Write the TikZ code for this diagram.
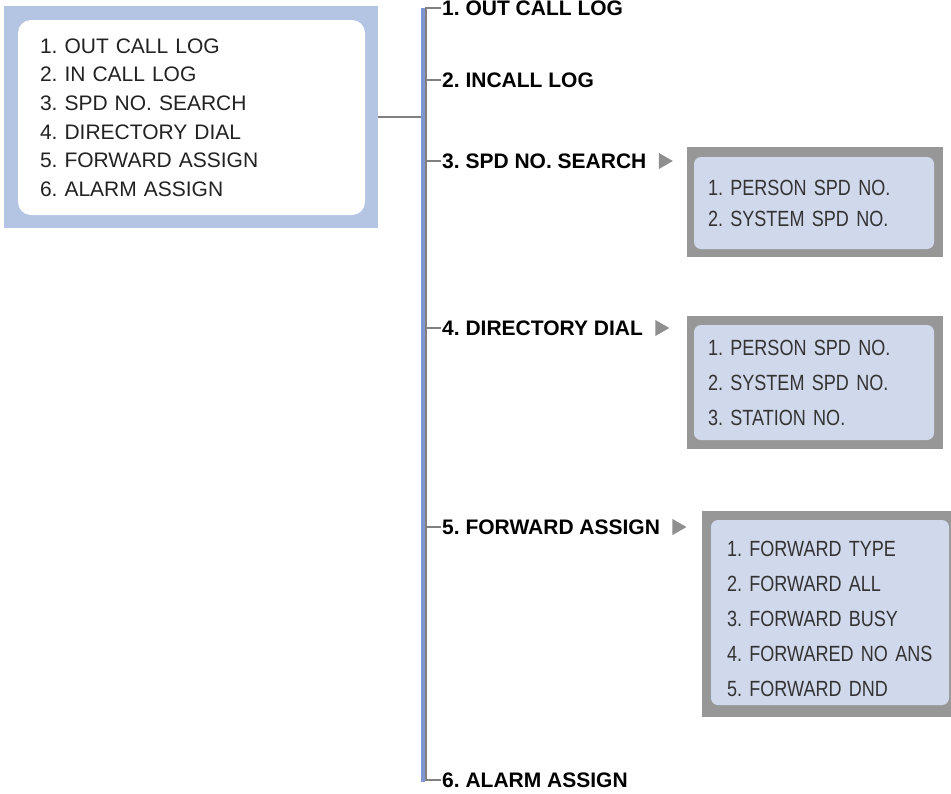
\documentclass[tikz,border=0pt]{standalone}
\usepackage{fontspec}
\setmainfont{Liberation Sans}
\newfontfamily\condfont{Liberation Sans}[FakeStretch=0.82, WordSpace=0.6]
\usetikzlibrary{positioning,shapes.geometric}
\definecolor{menublue}{HTML}{B3C5E3}
\definecolor{barblue}{HTML}{7F96D0}
\definecolor{subfill}{HTML}{D0D9EC}
\definecolor{boxgray}{HTML}{979797}
\definecolor{linegray}{HTML}{808080}
\definecolor{trigray}{HTML}{8F8F8F}
\definecolor{menutext}{HTML}{222222}
\definecolor{subtext}{HTML}{333333}

\tikzset{
  head/.style={anchor=west, inner sep=1pt, font=\bfseries\fontsize{21}{25}\selectfont},
  subframe/.style={fill=boxgray, inner sep=0pt},
  subbox/.style={fill=subfill, rounded corners=7pt, align=left, inner ysep=0pt, text=subtext,
    font=\condfont\fontsize{22}{35}\selectfont},
  tri/.style={isosceles triangle, isosceles triangle apex angle=60, fill=trigray,
    inner sep=0pt, minimum height=14pt},
  treeline/.style={draw=linegray, line width=1.6pt}
}

\begin{document}
\frenchspacing
\begin{tikzpicture}[x=1pt, y=-1pt, node distance=11pt]
  \useasboundingbox (0,0) rectangle (951,793);
  % main menu
  \node[fill=menublue, minimum width=374, minimum height=222, inner sep=0pt] (menubg) at (191,117) {};
  \node[fill=white, rounded corners=13pt, minimum width=347, minimum height=195, inner xsep=22pt,
    text width=303pt, align=left, text=menutext, font=\fontsize{21}{28.6}\selectfont] (menu) at (191.5,117.5)
    {1. OUT CALL LOG\\2. IN CALL LOG\\3. SPD NO. SEARCH\\4. DIRECTORY DIAL\\5. FORWARD ASSIGN\\6. ALARM ASSIGN};

  % spine
  \node[fill=barblue, minimum width=4, minimum height=774, inner sep=0pt] (bar) at (423,395) {};
  \coordinate (spine) at (426,8);

  \node[head] (h1) at (441,8) {1. OUT CALL LOG};
  \node[head] (h2) at (441,80) {2. INCALL LOG};
  \node[head] (h3) at (441,161) {3. SPD NO. SEARCH};
  \node[head] (h4) at (441,328) {4. DIRECTORY DIAL};
  \node[head] (h5) at (441,527) {5. FORWARD ASSIGN};
  \node[head] (h6) at (441,780) {6. ALARM ASSIGN};

  \draw[treeline] (menubg.east) -- (menubg.east -| bar.west);
  \draw[treeline] (h1.west) -- (h1.west -| spine) -- (h6.west -| spine) -- (h6.west);
  \foreach \h in {h2,h3,h4,h5}
    \draw[treeline] (\h.west) -- (\h.west -| spine);

  \node[tri, right=of h3] (t3) {};
  \node[tri, right=of h4] (t4) {};
  \node[tri, right=of h5] (t5) {};

  % sub menus
  \node[subframe, minimum width=256, minimum height=110] (f3) at (815,202) {};
  \node[subbox, minimum width=240, minimum height=92, inner xsep=14pt, text width=212pt,
    font=\condfont\fontsize{22}{31}\selectfont] (s3) at (814,203)
    {\rule{0pt}{15pt}1. PERSON SPD NO.\\2. SYSTEM SPD NO.};

  \node[subframe, minimum width=256, minimum height=133] (f4) at (815,382.5) {};
  \node[subbox, minimum width=240, minimum height=115, inner xsep=14pt, text width=212pt] (s4) at (814,382.5)
    {1. PERSON SPD NO.\\2. SYSTEM SPD NO.\\3. STATION NO.};

  \node[subframe, minimum width=249, minimum height=206] (f5) at (826.5,614) {};
  \node[subbox, minimum width=238, minimum height=185, inner xsep=16pt, text width=206pt] (s5) at (830,612.5)
    {\rule{0pt}{28pt}1. FORWARD TYPE\\2. FORWARD ALL\\3. FORWARD BUSY\\4. FORWARED NO ANS\\5. FORWARD DND};
\end{tikzpicture}
\end{document}
